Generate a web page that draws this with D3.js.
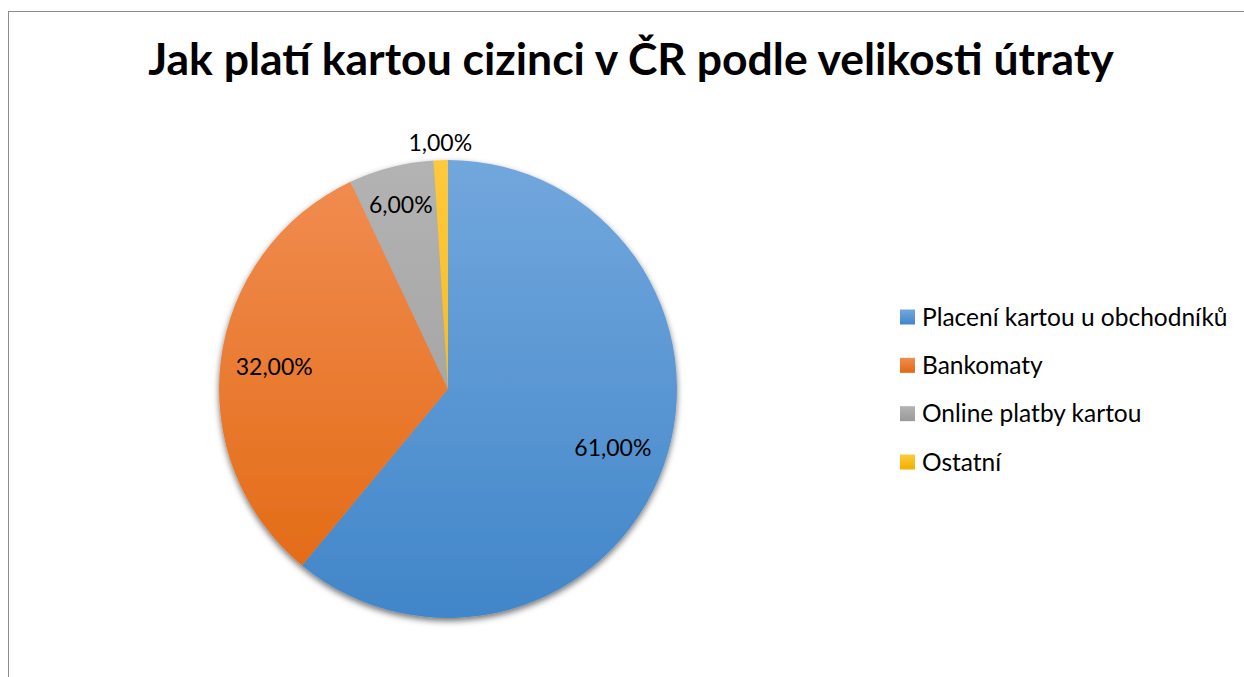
<!DOCTYPE html>
<html lang="cs">
<head>
<meta charset="UTF-8">
<title>Jak platí kartou cizinci v ČR</title>
<script src="https://d3js.org/d3.v7.min.js"></script>
<style>
  body { margin: 0; background: #fff; font-family: Lato, "Noto Sans", sans-serif; }
  svg { display: block; }
  .title { font-size: 44.5px; font-weight: bold; text-anchor: middle; fill: #000; }
  .label { font-size: 23px; fill: #000; text-anchor: middle; }
  .legend text { font-size: 24.5px; fill: #000; }
</style>
</head>
<body>
<svg id="chart" width="1244" height="677"></svg>
<script>
// data
const categories = ['Placení kartou u obchodníků', 'Bankomaty', 'Online platby kartou', 'Ostatní'];
const shares = [61, 32, 6, 1];
const labels = ['61,00%', '32,00%', '6,00%', '1,00%'];

const colorsTop = ['#72a7dd', '#f18d52', '#b3b3b3', '#ffc93c'];
const colorsBottom = ['#4186c9', '#e26810', '#9a9a9a', '#f0b000'];

const width = 1244, height = 677;
const cx = 448, cy = 389, radius = 229;

const svg = d3.select('#chart');
const defs = svg.append('defs');

// frame (runs off the right and bottom edge like the original)
svg.append('rect')
  .attr('x', 8.5).attr('y', 11.5)
  .attr('width', width).attr('height', height)
  .attr('fill', 'none').attr('stroke', '#8c8c8c').attr('stroke-width', 1);

svg.append('text')
  .attr('class', 'title')
  .attr('x', 631).attr('y', 75)
  .text('Jak platí kartou cizinci v ČR podle velikosti útraty');

// gradients
categories.forEach((c, i) => {
  const g = defs.append('linearGradient')
    .attr('id', 'grad' + i)
    .attr('gradientUnits', 'userSpaceOnUse')
    .attr('x1', 0).attr('y1', -radius).attr('x2', 0).attr('y2', radius);
  g.append('stop').attr('offset', '0%').attr('stop-color', colorsTop[i]);
  g.append('stop').attr('offset', '100%').attr('stop-color', colorsBottom[i]);

  const lg = defs.append('linearGradient')
    .attr('id', 'lgrad' + i)
    .attr('x1', 0).attr('y1', 0).attr('x2', 0).attr('y2', 1);
  lg.append('stop').attr('offset', '0%').attr('stop-color', colorsTop[i]);
  lg.append('stop').attr('offset', '100%').attr('stop-color', colorsBottom[i]);
});

const shadow = defs.append('filter').attr('id', 'shadow')
  .attr('x', '-20%').attr('y', '-20%').attr('width', '140%').attr('height', '140%');
shadow.append('feDropShadow')
  .attr('dx', 0).attr('dy', 3).attr('stdDeviation', 3)
  .attr('flood-color', '#000').attr('flood-opacity', 0.55);

const pie = d3.pie().sort(null).value(d => d)(shares);
const arc = d3.arc().innerRadius(0).outerRadius(radius);

const g = svg.append('g').attr('transform', `translate(${cx},${cy})`);

const slices = g.append('g').attr('filter', 'url(#shadow)');
slices.selectAll('path')
  .data(pie)
  .join('path')
  .attr('d', arc)
  .attr('fill', (d, i) => `url(#grad${i})`);

// labels: big slices inside, tiny slice outside
g.selectAll('.label')
  .data(pie)
  .join('text')
  .attr('class', 'label')
  .attr('transform', d => {
    const a = (d.startAngle + d.endAngle) / 2;
    const share = d.value / d3.sum(shares);
    const r = share < 0.03 ? radius + 17 : share < 0.1 ? radius * 0.83 : radius * 0.765;
    return `translate(${Math.sin(a) * r},${-Math.cos(a) * r})`;
  })
  .attr('dy', '0.35em')
  .text((d, i) => labels[i]);

// legend
const legendY = d3.scalePoint().domain(categories).range([317, 462]);
const legend = svg.append('g').attr('class', 'legend')
  .selectAll('g')
  .data(categories)
  .join('g')
  .attr('transform', d => `translate(900,${legendY(d)})`);

legend.append('rect')
  .attr('x', 0).attr('y', -7.5)
  .attr('width', 15).attr('height', 15)
  .attr('fill', (d, i) => `url(#lgrad${i})`);

legend.append('text')
  .attr('x', 22).attr('dy', '0.35em')
  .text(d => d);
</script>
</body>
</html>
